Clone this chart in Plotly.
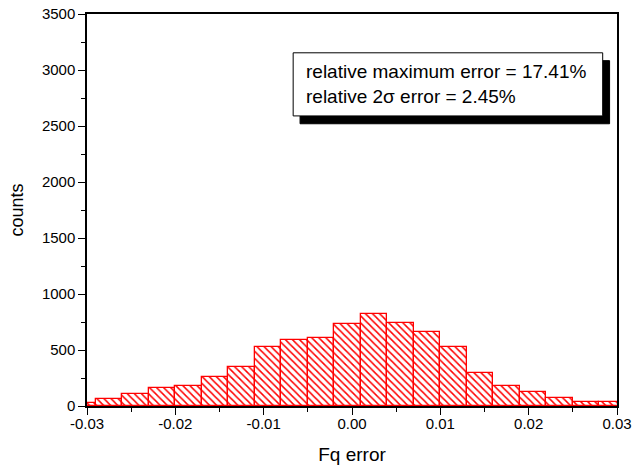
import plotly.graph_objects as go

# Histogram data (bin width 0.003, first left edge -0.032)
bin_width = 0.003
bin_left_edges = [-0.032, -0.029, -0.026, -0.023, -0.020, -0.017, -0.014, -0.011,
                  -0.008, -0.005, -0.002, 0.001, 0.004, 0.007, 0.010, 0.013,
                  0.016, 0.019, 0.022, 0.025, 0.028]
counts = [30, 66, 108, 159, 177, 255, 347, 530, 590, 611, 731, 821, 743, 665,
          530, 297, 180, 126, 72, 39, 39]

x_ticks = [-0.03, -0.02, -0.01, 0.00, 0.01, 0.02, 0.03]
x_tick_labels = ["-0.03", "-0.02", "-0.01", "0.00", "0.01", "0.02", "0.03"]
y_ticks = [0, 500, 1000, 1500, 2000, 2500, 3000, 3500]
y_tick_labels = ["0", "500", "1000", "1500", "2000", "2500", "3000", "3500"]

box_lines = ["relative maximum error = 17.41%", "relative 2σ error = 2.45%"]

centers = [e + bin_width / 2 for e in bin_left_edges]

fig = go.Figure()
fig.add_trace(go.Bar(
    x=centers, y=counts, width=bin_width,
    marker=dict(
        color="white",
        line=dict(color="red", width=1.3),
        pattern=dict(shape="\\", fgcolor="red", bgcolor="white", size=5,
                     solidity=0.3, fgopacity=1),
    ),
    showlegend=False,
))

FONT = "Arial, Liberation Sans, sans-serif"

fig.update_layout(
    width=634, height=474,
    margin=dict(l=87, r=17, t=14, b=68, autoexpand=False),
    paper_bgcolor="white", plot_bgcolor="white",
    font=dict(family=FONT, size=15, color="black"),
    bargap=0,
    xaxis=dict(
        range=[-0.03, 0.03], tickvals=x_ticks, ticktext=x_tick_labels,
        automargin=False,
        showgrid=False, zeroline=False,
        showline=True, linecolor="black", linewidth=1.5, mirror=True,
        ticks="outside", ticklen=7, tickwidth=1.3, tickcolor="black",
        minor=dict(dtick=0.005, tick0=-0.03, ticks="outside", ticklen=4,
                   tickwidth=1.3, tickcolor="black"),
        ticklabelstandoff=-4,
        title=dict(text="Fq error", font=dict(size=19), standoff=17),
        tickfont=dict(size=15),
    ),
    yaxis=dict(
        range=[0, 3500], tickvals=y_ticks, ticktext=y_tick_labels,
        automargin=False,
        showgrid=False, zeroline=False,
        showline=True, linecolor="black", linewidth=1.5, mirror=True,
        ticks="outside", ticklen=7, tickwidth=1.3, tickcolor="black",
        minor=dict(dtick=250, tick0=0, ticks="outside", ticklen=4,
                   tickwidth=1.3, tickcolor="black"),
        title=dict(text="counts", font=dict(size=18), standoff=14),
        tickfont=dict(size=15),
    ),
)

# text box with drop shadow (paper coords)
bx0, bx1, by0, by1 = 0.389, 0.973, 0.740, 0.901
sdx, sdy = 0.013, 0.020
fig.add_shape(type="rect", xref="paper", yref="paper",
              x0=bx0 + sdx, x1=bx1 + sdx, y0=by0 - sdy, y1=by1 - sdy,
              fillcolor="black", line=dict(color="black", width=1), layer="above")
fig.add_shape(type="rect", xref="paper", yref="paper",
              x0=bx0, x1=bx1, y0=by0, y1=by1,
              fillcolor="white", line=dict(color="black", width=1), layer="above")
fig.add_annotation(xref="paper", yref="paper", x=bx0 + 0.02, y=(by0 + by1) / 2,
                   xanchor="left", yanchor="middle", align="left",
                   text="<br>".join(box_lines), showarrow=False,
                   font=dict(size=19, family=FONT, color="black"))

fig.write_html("out.html", config={"displayModeBar": False},
               post_script="document.body.style.margin='0';")
